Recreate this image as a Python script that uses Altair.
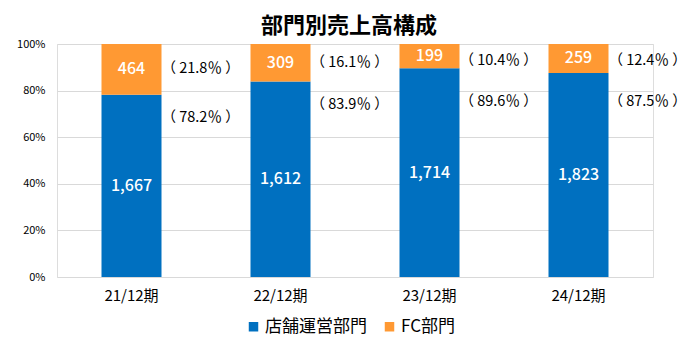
import altair as alt
import pandas as pd

categories = ["21/12期", "22/12期", "23/12期", "24/12期"]
store_values = [1667, 1612, 1714, 1823]
fc_values = [464, 309, 199, 259]
store_pct = [78.2, 83.9, 89.6, 87.5]
fc_pct = [21.8, 16.1, 10.4, 12.4]
series_names = ["店舗運営部門", "FC部門"]
colors = ["#0070C0", "#FF9933"]

rows = []
for i, c in enumerate(categories):
    total = store_values[i] + fc_values[i]
    s_share = store_values[i] / total
    f_share = fc_values[i] / total
    rows.append(dict(cat=c, series=series_names[0], order=0, value=store_values[i],
                     label=f"{store_values[i]:,}", mid=s_share / 2,
                     pct=f"（ {store_pct[i]}％ ）", pctpos=min(s_share - 0.10, 0.75)))
    rows.append(dict(cat=c, series=series_names[1], order=1, value=fc_values[i],
                     label=f"{fc_values[i]:,}", mid=s_share + f_share / 2,
                     pct=f"（ {fc_pct[i]}％ ）", pctpos=min(s_share + f_share / 2, 0.925)))
df = pd.DataFrame(rows)

FONT = "Noto Sans CJK JP"

x_enc = alt.X("cat:N", sort=categories, title=None,
              scale=alt.Scale(paddingInner=0.597, paddingOuter=0.2985),
              axis=alt.Axis(labelAngle=0, ticks=False, domain=False, labelPadding=11,
                            labelFontSize=15, labelColor="#000000", labelFont=FONT))

bars = alt.Chart(df).mark_bar(size=60).encode(
    x=x_enc,
    y=alt.Y("value:Q", stack="normalize", title=None,
            scale=alt.Scale(domain=[0, 1]),
            axis=alt.Axis(format=".0%", values=[0, 0.2, 0.4, 0.6, 0.8, 1.0],
                          ticks=False, domain=False, labelPadding=12,
                          labelFontSize=11, labelColor="#000000", labelFont=FONT,
                          gridColor="#D9D9D9", gridWidth=1)),
    color=alt.Color("series:N", scale=alt.Scale(domain=series_names, range=colors),
                    legend=alt.Legend(title=None, orient="none", direction="horizontal",
                                      legendX=188, legendY=274, symbolType="square",
                                      symbolSize=90, symbolStrokeWidth=0,
                                      labelFontSize=17, labelFont=FONT, labelColor="#000000",
                                      columnPadding=14, labelOffset=3, padding=0)),
    order=alt.Order("order:Q", sort="ascending"),
)

vals = alt.Chart(df).mark_text(color="white", fontSize=16, font=FONT, fontWeight=500).encode(
    x=alt.X("cat:N", sort=categories),
    y=alt.Y("mid:Q", scale=alt.Scale(domain=[0, 1])),
    text="label:N",
)

pcts = alt.Chart(df).mark_text(color="#000000", fontSize=14.5, font=FONT, align="left", dx=30).encode(
    x=alt.X("cat:N", sort=categories),
    y=alt.Y("pctpos:Q", scale=alt.Scale(domain=[0, 1])),
    text="pct:N",
)

chart = alt.layer(bars, vals, pcts).properties(
    width=596, height=233,
    autosize=alt.AutoSizeParams(type="none"),
    padding={"left": 57, "top": 44, "right": 45, "bottom": 77},
    title=alt.TitleParams("部門別売上高構成", fontSize=22, fontWeight="bold", font=FONT,
                          color="#000000", anchor="middle", offset=0, dx=-6),
).configure_view(stroke=None).configure(background="white")

chart.save("out.html", embed_options={"renderer": "svg", "actions": False})
